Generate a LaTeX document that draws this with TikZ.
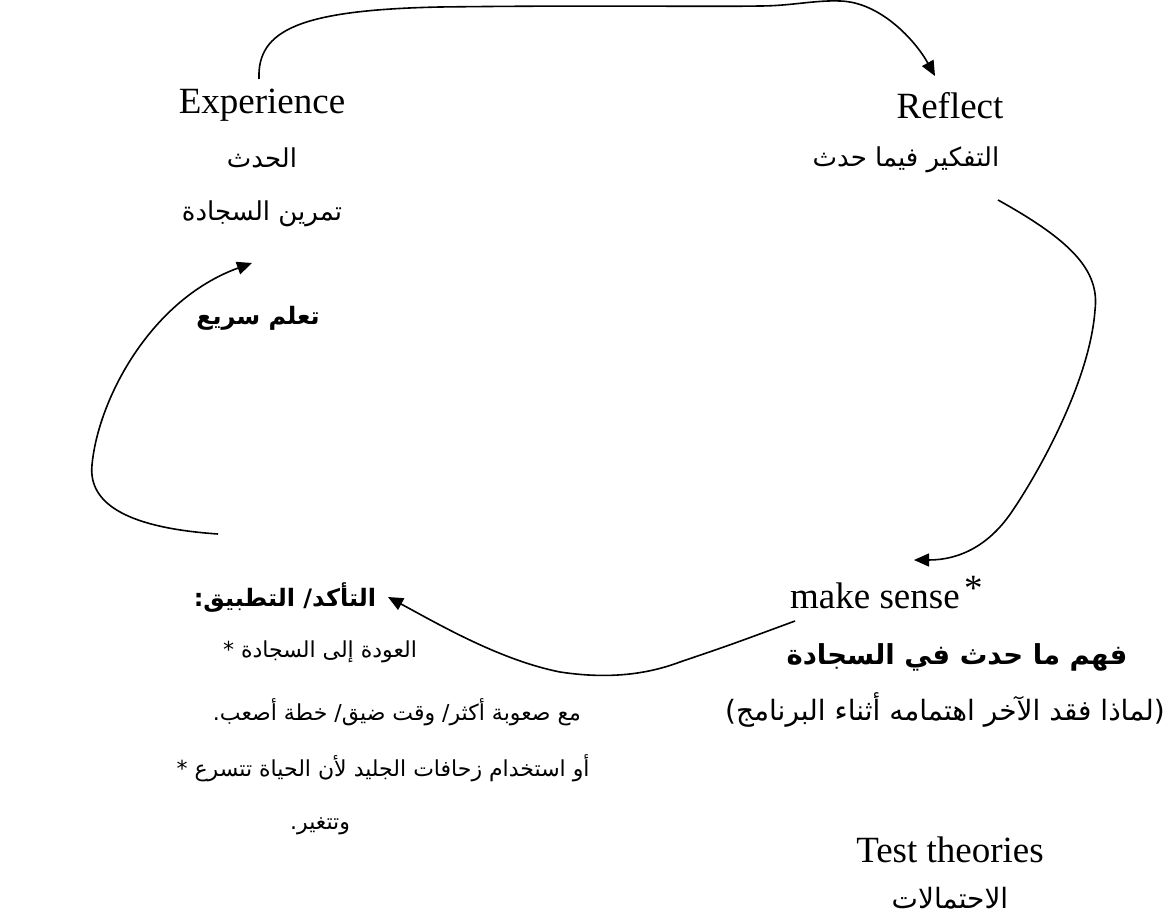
\documentclass[tikz,border=0pt]{standalone}
\usepackage{fontspec}
\setmainfont{Liberation Serif}
\newfontfamily\arabicfont[Script=Arabic]{DejaVu Sans}
\TeXXeTstate=1
\usetikzlibrary{arrows.meta}
\begin{document}
\begin{tikzpicture}[x=1pt,y=-1pt,
  lat/.style={font=\fontsize{37}{44}\selectfont, inner sep=0pt},
  ar/.style={font=\fontsize{26}{32}\selectfont\arabicfont, inner sep=0pt},
  arlarge/.style={font=\fontsize{28}{34}\selectfont\arabicfont, inner sep=0pt},
  arsmall/.style={font=\fontsize{22}{28}\selectfont\arabicfont, inner sep=0pt},
  arbsmall/.style={font=\fontsize{24}{30}\selectfont\arabicfont\bfseries, inner sep=0pt},
  arbig/.style={font=\fontsize{27.5}{34}\selectfont\arabicfont\bfseries, inner sep=0pt},
  cycle arrow/.style={line width=1.6pt, -{Triangle[length=15pt,width=13pt]}}]
\useasboundingbox (0,0) rectangle (1169,917);

% --- stage 1: experience
\node[lat] (exp) at (262,105) {Experience};
\node[ar] (expA) at (262,158) {\beginR الحدث\endR};
\node[ar] (expB) at (262,214) {\beginR تمرين السجادة\endR};

% --- stage 2: reflect
\node[lat] (refl) at (950,106) {Reflect};
\node[ar] (reflA) at (906,160) {\beginR التفكير فيما حدث\endR};

% --- stage 3: make sense
\node[lat, anchor=base west] (sense) at (790,608) {make sense};
\node[lat, anchor=base west] (star) at (964,600) {*};
\node[arbig] (senseA) at (957,657) {\beginR فهم ما حدث في السجادة\endR};
\node[arlarge] (senseB) at (945,710) {\beginR (لماذا فقد الآخر اهتمامه أثناء البرنامج)\endR};
\node[lat] (test) at (950,850) {Test theories};
\node[arlarge] (testA) at (950,898) {\beginR الاحتمالات\endR};

% --- stage 4: apply
\node[arbsmall] (apply) at (285,598) {\beginR التأكد/ التطبيق:\endR};
\node[arsmall] (applyA) at (320,652) {* \beginR العودة إلى السجادة\endR};
\node[arsmall] (applyB) at (397,712) {\beginR مع صعوبة أكثر/ وقت ضيق/ خطة أصعب.\endR};
\node[arsmall] (applyC) at (383,768) {* \beginR أو استخدام زحافات الجليد لأن الحياة تتسرع\endR};
\node[arsmall] (applyD) at (320,826) {\beginR وتتغير.\endR};

% --- label on the return arc
\node[arbsmall] (fast) at (258,318) {\beginR تعلم سريع\endR};

% --- ends of the cycle arrows
\coordinate (a1) at (259,79);
\coordinate (a2) at (935,76);
\coordinate (b1) at (998,200);
\coordinate (b2) at (914,560);
\coordinate (c1) at (795,621);
\coordinate (c2) at (388,597);
\coordinate (d1) at (218,534);
\coordinate (d2) at (252,263);

% experience -> reflect
\draw[cycle arrow] (a1) .. controls (257,30) and (300,10) .. (440,7)
  .. controls (600,5) and (700,7) .. (760,6)
  .. controls (790,6) and (815,0) .. (840,1)
  .. controls (880,2) and (915,40) .. (a2);
% reflect -> make sense
\draw[cycle arrow] (b1) .. controls (1070,240) and (1100,270) .. (1095,310)
  .. controls (1090,380) and (1040,470) .. (1013,510)
  .. controls (990,545) and (960,560) .. (b2);
% make sense -> apply
\draw[cycle arrow] (c1) .. controls (730,645) .. (680,662)
  .. controls (640,677) and (600,678) .. (560,672)
  .. controls (500,660) and (440,625) .. (c2);
% apply -> experience
\draw[cycle arrow] (d1) .. controls (130,528) and (88,505) .. (92,465)
  .. controls (98,400) and (150,300) .. (d2);
\end{tikzpicture}
\end{document}
